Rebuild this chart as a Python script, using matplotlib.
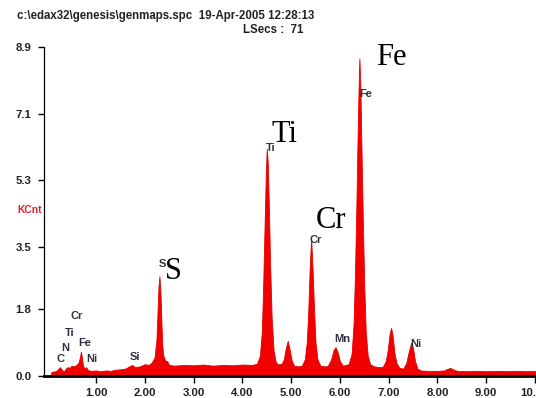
import matplotlib
matplotlib.use("Agg")
from matplotlib import pyplot as plt

# EDS spectrum (energy in keV, counts in KCnt), read as a profile
energy = [0.08, 0.12, 0.18, 0.22, 0.26, 0.30, 0.34, 0.38, 0.42, 0.46, 0.50, 0.55,
          0.60, 0.64, 0.67, 0.69, 0.71, 0.73, 0.76, 0.80, 0.83, 0.90, 1.00, 1.10,
          1.20, 1.30, 1.40, 1.50, 1.60, 1.68, 1.74, 1.80, 1.90, 2.00, 2.08, 2.14,
          2.20, 2.24, 2.26, 2.28, 2.30, 2.32, 2.34, 2.36, 2.38, 2.42, 2.46, 2.50,
          2.60, 2.80, 3.00, 3.20, 3.40, 3.60, 3.80, 4.00, 4.20, 4.30, 4.36, 4.40,
          4.43, 4.46, 4.48, 4.50, 4.52, 4.54, 4.57, 4.60, 4.64, 4.68, 4.72, 4.80,
          4.85, 4.89, 4.93, 4.97, 5.01, 5.06, 5.14, 5.22, 5.28, 5.32, 5.35, 5.38,
          5.41, 5.44, 5.47, 5.50, 5.54, 5.60, 5.68, 5.75, 5.82, 5.87, 5.91, 5.95,
          6.00, 6.06, 6.12, 6.18, 6.24, 6.28, 6.31, 6.34, 6.37, 6.39, 6.40, 6.42,
          6.44, 6.47, 6.50, 6.53, 6.57, 6.62, 6.70, 6.80, 6.88, 6.94, 6.98, 7.02,
          7.05, 7.08, 7.12, 7.16, 7.22, 7.30, 7.36, 7.41, 7.46, 7.50, 7.54, 7.59,
          7.66, 7.80, 8.00, 8.14, 8.20, 8.26, 8.32, 8.40, 8.60, 8.80, 9.00, 9.20,
          9.40, 9.60, 9.80, 10.02]
kcnt = [0.10, 0.12, 0.13, 0.18, 0.24, 0.17, 0.12, 0.20, 0.24, 0.22, 0.28, 0.26,
        0.30, 0.36, 0.50, 0.66, 0.52, 0.30, 0.20, 0.24, 0.16, 0.14, 0.15, 0.13,
        0.15, 0.14, 0.17, 0.18, 0.20, 0.26, 0.30, 0.24, 0.26, 0.32, 0.30, 0.36,
        0.50, 1.00, 1.70, 2.40, 2.70, 2.30, 1.50, 0.80, 0.55, 0.42, 0.40, 0.30,
        0.28, 0.30, 0.29, 0.31, 0.28, 0.30, 0.29, 0.31, 0.30, 0.33, 0.55, 1.20,
        2.60, 4.30, 5.40, 6.15, 5.80, 4.80, 3.00, 1.60, 0.70, 0.40, 0.32, 0.32,
        0.45, 0.75, 0.95, 0.72, 0.42, 0.28, 0.26, 0.28, 0.45, 0.90, 1.70, 2.90,
        3.72, 2.90, 1.80, 0.90, 0.45, 0.28, 0.26, 0.27, 0.45, 0.70, 0.78, 0.66,
        0.40, 0.28, 0.30, 0.32, 0.60, 1.40, 2.80, 4.80, 7.00, 8.20, 8.59, 7.80,
        6.30, 4.20, 2.40, 1.20, 0.55, 0.32, 0.26, 0.24, 0.25, 0.40, 0.70, 1.15,
        1.30, 1.10, 0.60, 0.35, 0.22, 0.20, 0.35, 0.65, 0.90, 0.75, 0.40, 0.20,
        0.15, 0.14, 0.14, 0.15, 0.19, 0.22, 0.18, 0.14, 0.13, 0.14, 0.13, 0.14,
        0.13, 0.14, 0.13, 0.14]

# element markers on the peaks
peak_names = ["Fe", "Ti", "Cr", "S", "Mn", "Ni", "Si", "C", "N", "Ti", "Cr", "Fe", "Ni"]
peak_x = [6.40, 4.48, 5.37, 2.29, 5.88, 7.45, 1.70, 0.19, 0.28, 0.36, 0.48, 0.63, 0.79]
peak_y = [7.54, 6.09, 3.59, 2.96, 0.93, 0.79, 0.43, 0.39, 0.68, 1.08, 1.53, 0.82, 0.37]

# large annotations for the main lines
big_names = ["Fe", "Ti", "Cr", "S"]
big_x = [6.75, 4.60, 5.50, 2.42]
big_y = [8.40, 6.34, 4.00, 2.63]

x_ticks = [1, 2, 3, 4, 5, 6, 7, 8, 9, 10]
y_ticks = [0.0, 1.8, 3.5, 5.3, 7.1, 8.9]

fig = plt.figure(figsize=(5.36, 3.98), dpi=100)
ax = fig.add_axes([44 / 536, 22 / 398, 492 / 536, 329 / 398])

ax.fill_between(energy, kcnt, 0, color="#f20000", linewidth=0.6, edgecolor="#e80000")

ax.set_xlim(-0.066, 10.02)
ax.set_ylim(0, 8.9)
ax.set_xticks(x_ticks)
ax.set_xticklabels(["%.2f" % v for v in x_ticks])
ax.set_yticks(y_ticks)
ax.set_yticklabels(["%.1f" % v for v in y_ticks])

for lab in ax.get_xticklabels() + ax.get_yticklabels():
    lab.set_fontfamily("Liberation Sans")
    lab.set_fontweight("bold")
    lab.set_fontsize(8.2)
    lab.set_color("#222222")

ax.tick_params(axis="x", direction="out", length=5, width=1, pad=4)
ax.tick_params(axis="y", direction="out", length=4, width=1, pad=5)
ax.spines["top"].set_visible(False)
ax.spines["right"].set_visible(False)
ax.spines["bottom"].set_linewidth(2.0)
ax.spines["left"].set_linewidth(0.9)

for name, x, y in zip(peak_names, peak_x, peak_y):
    ax.text(x, y, name, fontsize=8, fontweight="bold", family="Liberation Sans",
            color="#303040", ha="left", va="baseline")

for name, x, y in zip(big_names, big_x, big_y):
    ax.text(x, y, name, fontsize=22, family="Liberation Serif", color="black",
            ha="left", va="baseline")

fig.text(17 / 536, 1 - 18.5 / 398, "c:\\edax32\\genesis\\genmaps.spc  19-Apr-2005 12:28:13",
         fontsize=8.3, fontweight="bold", family="Liberation Sans", color="#222222",
         ha="left", va="baseline")
fig.text(243 / 536, 1 - 32.7 / 398, "LSecs :  71", fontsize=8.3, fontweight="bold",
         family="Liberation Sans", color="#222222", ha="left", va="baseline")
fig.text(17 / 536, 1 - 213 / 398, "KCnt", fontsize=7.4, fontweight="bold",
         family="Liberation Sans", color="#e0202a", ha="left", va="baseline")

fig.savefig("out.png", dpi=100)
